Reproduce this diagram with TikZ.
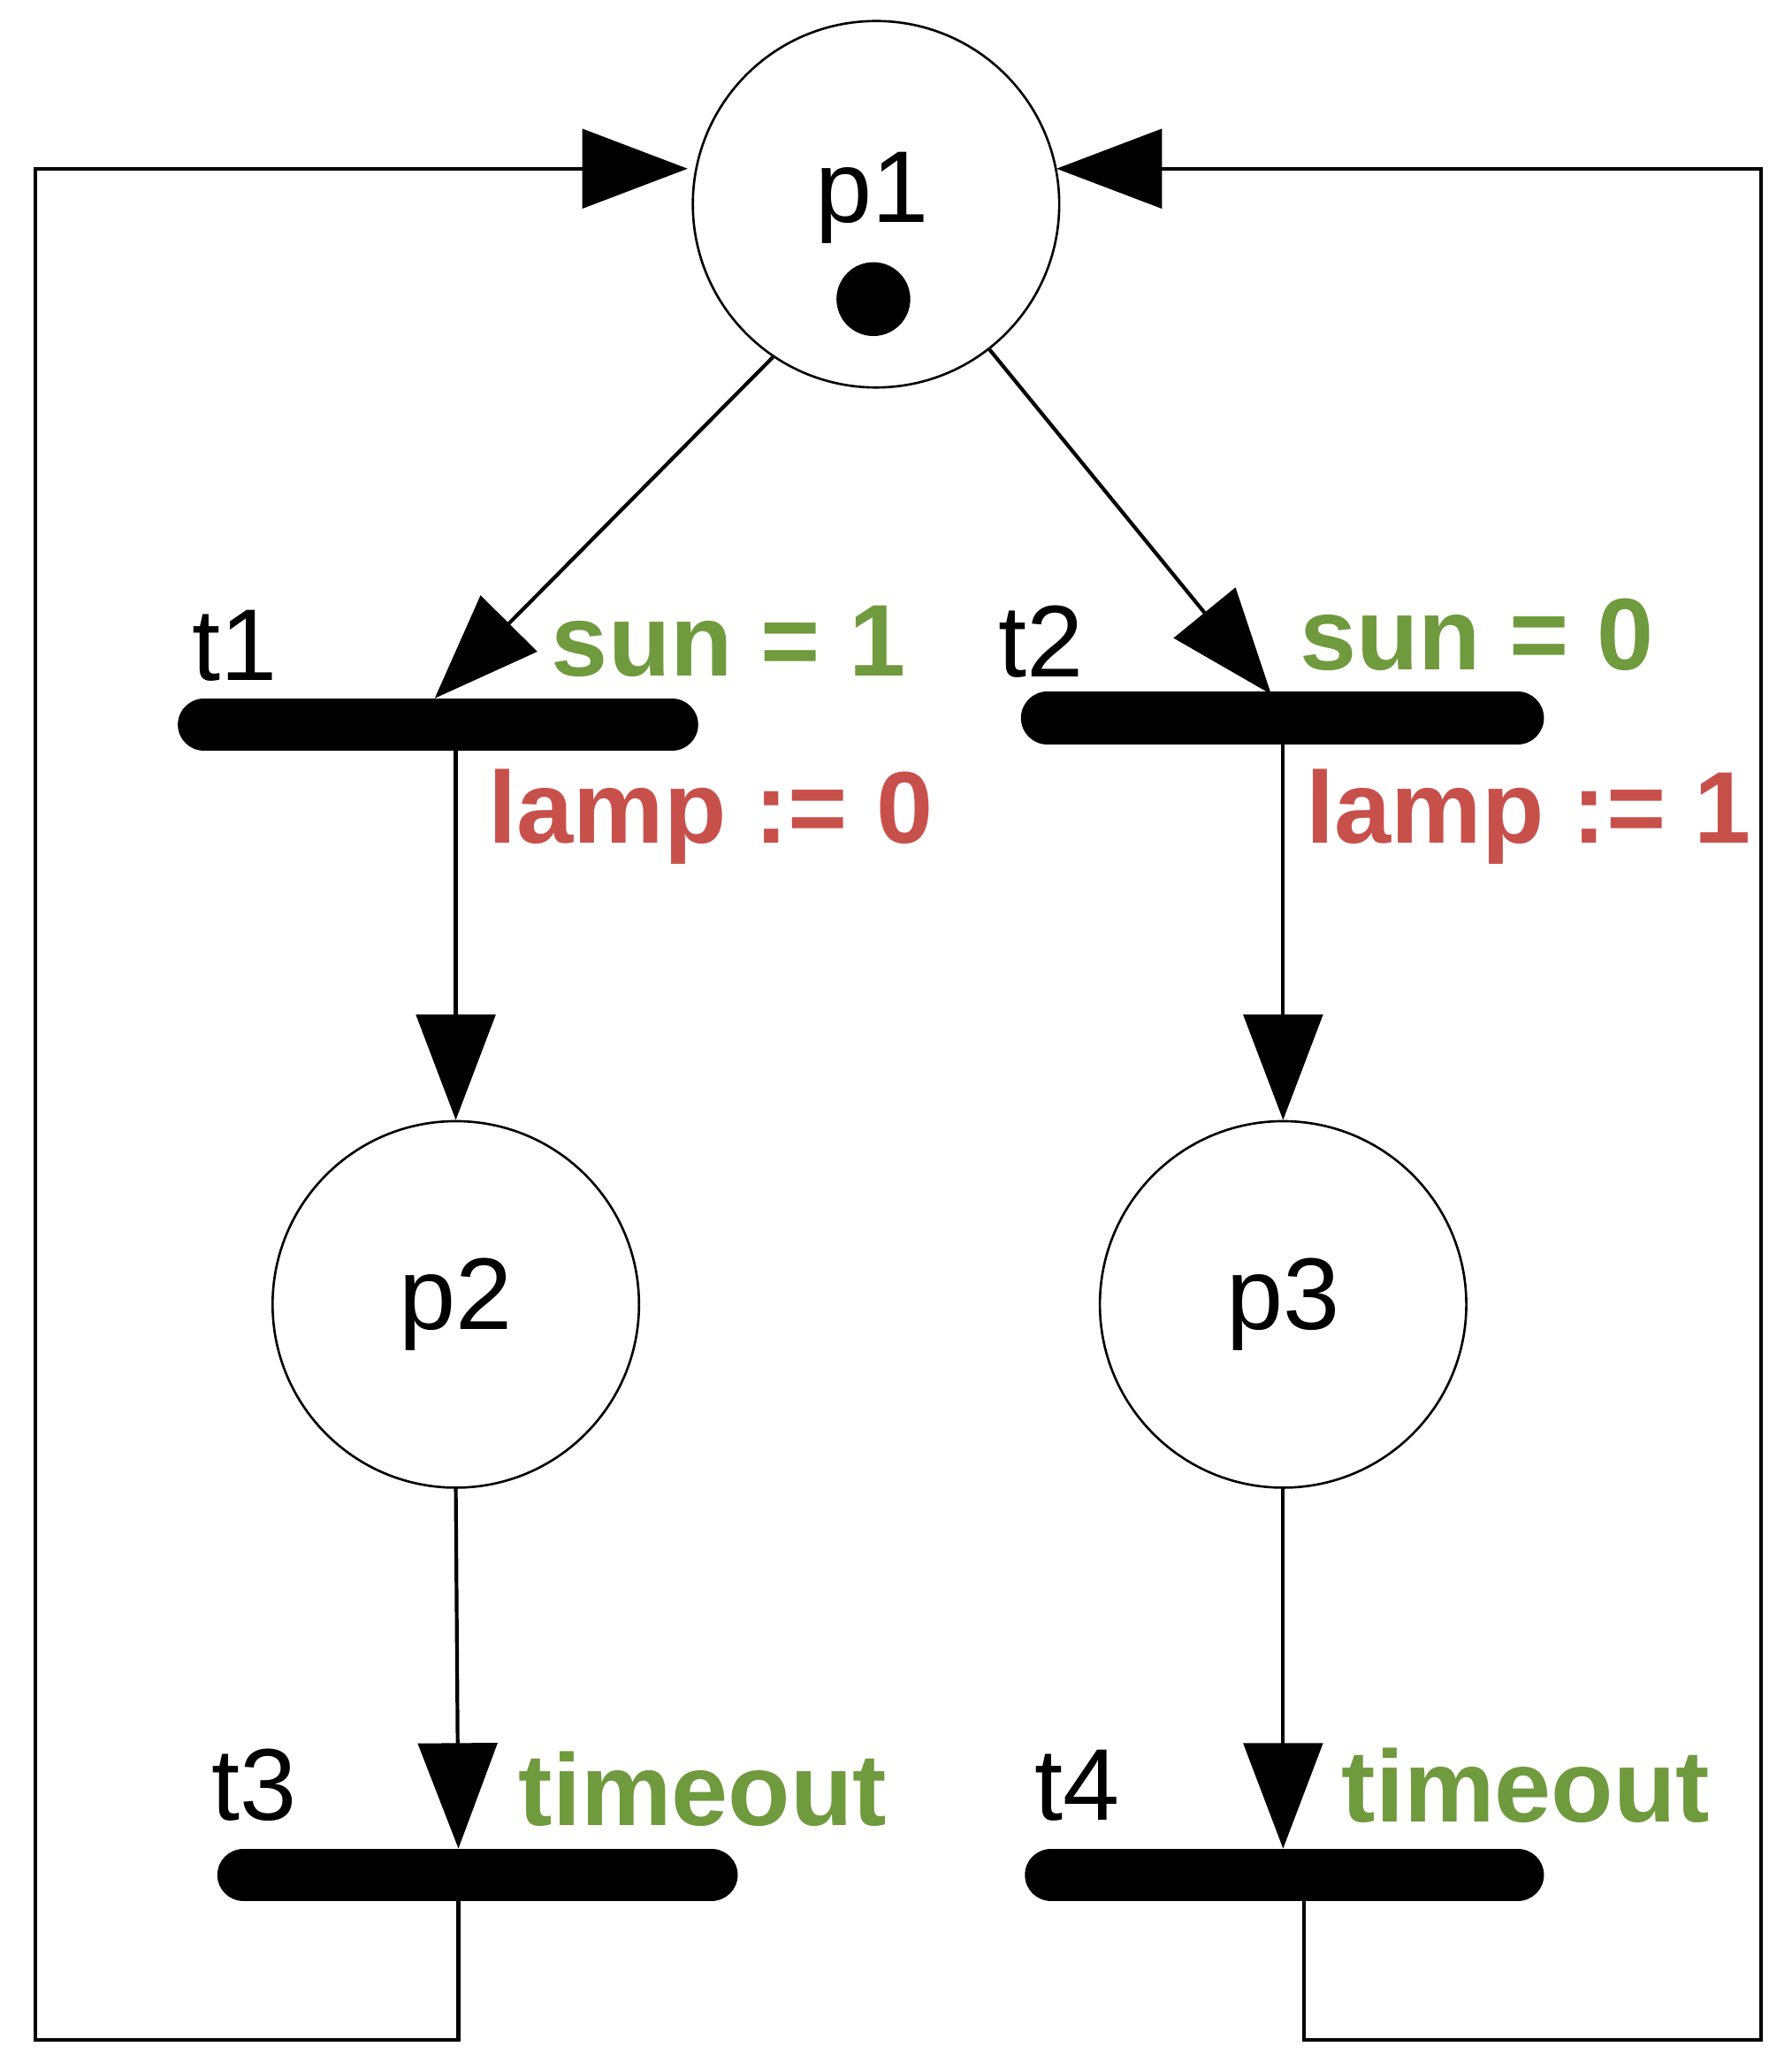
\documentclass[tikz,border=0pt]{standalone}
\usepackage{fontspec}
\setmainfont{Liberation Sans}
\usetikzlibrary{arrows.meta}
\definecolor{grn}{HTML}{6F9A3D}
\definecolor{rd}{HTML}{C8504A}
\begin{document}
\begin{tikzpicture}[x=0.01cm,y=-0.01cm,
  place/.style={circle,draw,line width=0.5pt,minimum size=2.78cm,inner sep=0pt,font=\fontsize{22}{26}\selectfont},
  trans/.style={line width=0.4cm,line cap=round},
  arc/.style={line width=0.8pt,-{Triangle[length=0.8cm,width=0.6cm]}},
  lbl/.style={font=\fontsize{22}{26}\selectfont,inner sep=0pt},
  grd/.style={lbl,font=\fontsize{22}{26}\selectfont\bfseries,text=grn},
  act/.style={lbl,font=\fontsize{22}{26}\selectfont\bfseries,text=rd}]
\useasboundingbox (0,0) rectangle (1360,1565);
\node[place] (p1) at (665,155) {};
\node[lbl] (p1l) at (662,150) {p1};
\fill (663,227) circle (0.28cm);
\node[place] (p2) at (346,990) {p2};
\node[place] (p3) at (974,990) {p3};
\draw[trans] (155,550) -- (510,550);
\draw[trans] (795,545) -- (1152,545);
\draw[trans] (185,1423) -- (540,1423);
\draw[trans] (798,1423) -- (1152,1423);
\coordinate (t1top) at (330,530);
\coordinate (t2top) at (965,527);
\coordinate (t1b) at (346,568);
\coordinate (t2b) at (974,563);
\coordinate (t3top) at (348,1403);
\coordinate (t4top) at (974,1403);
\coordinate (t3b) at (348,1441);
\coordinate (t4b) at (990,1441);
\coordinate (inL) at (522,128);
\coordinate (inR) at (802,128);
\draw[arc] (p1.236) -- (t1top);
\draw[arc] (p1.-52) -- (t2top);
\draw[arc] (t1b) -- (p2.north);
\draw[arc] (t2b) -- (p3.north);
\draw[arc] (p2.south) -- (t3top);
\draw[arc] (p3.south) -- (t4top);
\draw[arc] (t3b) -- (348,1548) -- (27,1548) -- (27,128) -- (inL);
\draw[arc] (t4b) -- (990,1548) -- (1337,1548) -- (1337,128) -- (inR);
\node[lbl] (t1l) at (178,490) {t1};
\node[lbl] (t2l) at (790,487) {t2};
\node[lbl] (t3l) at (193,1355) {t3};
\node[lbl] (t4l) at (818,1355) {t4};
\node[grd,anchor=west] (g1) at (418,487) {sun = 1};
\node[grd,anchor=west] (g2) at (986,482) {sun = 0};
\node[act,anchor=west] (a1) at (370,620) {lamp := 0};
\node[act,anchor=west] (a2) at (991,620) {lamp := 1};
\node[grd,anchor=west] (g3) at (393,1358) {timeout};
\node[grd,anchor=west] (g4) at (1018,1355) {timeout};
\end{tikzpicture}
\end{document}
